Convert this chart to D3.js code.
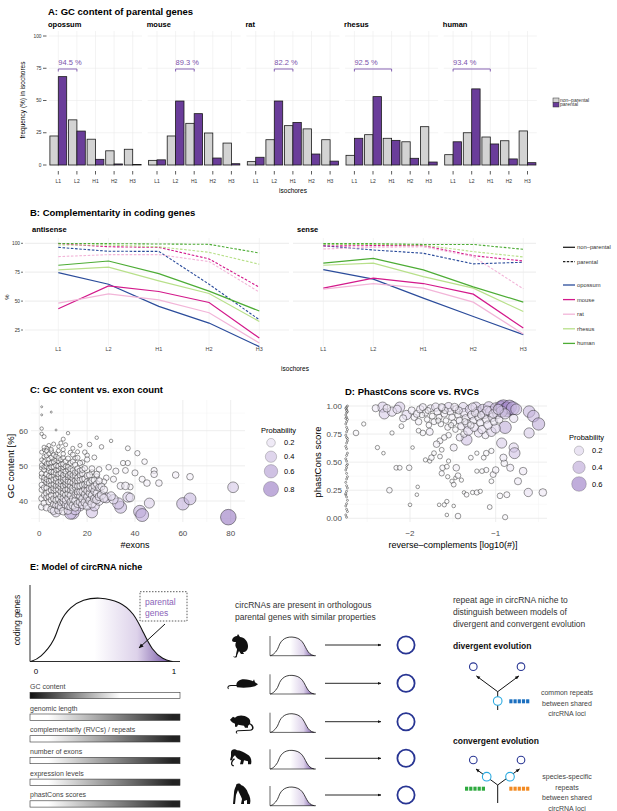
<!DOCTYPE html>
<html lang="en">
<head>
<meta charset="utf-8">
<title>circRNA niche</title>
<script src="https://cdnjs.cloudflare.com/ajax/libs/d3/7.8.5/d3.min.js"></script>
<style>
body{margin:0;background:#fff;}
svg{display:block;font-family:"Liberation Sans",Arial,sans-serif;}
</style>
</head>
<body>
<script>
var W = 617, H = 811;

// ---------- A: isochore frequencies ----------
var isochores = ["L1","L2","H1","H2","H3"];
var species = ["opossum","mouse","rat","rhesus","human"];
var freqNonParental = [
  [22.5,35.0,20.0,11.0,12.2],
  [3.6,22.5,32.3,24.8,17.0],
  [2.6,19.6,30.5,28.0,19.6],
  [7.5,23.5,20.7,18.0,29.7],
  [8.0,25.0,21.7,18.8,26.4]
];
var freqParental = [
  [68.5,26.3,4.4,0.8,0.4],
  [4.0,49.6,39.8,5.4,1.0],
  [6.0,49.6,33.0,8.5,3.0],
  [20.7,53.0,19.1,5.2,2.3],
  [18.0,59.0,16.3,4.7,1.8]
];
var pctLabels = ["94.5 %","89.3 %","82.2 %","92.5 %","93.4 %"];
var bracketFrom = ["L1","L2","L2","L1","L1"];
var bracketTo = ["L2","H1","H1","H1","H1"];

// ---------- B: complementarity ----------
var speciesColors = ["#2b4c9b","#d3198b","#f2b5d8","#b8e08a","#4dac35"];
var antisenseNon = [
  [74.7,64.6,45.4,31.0,10.6],
  [43.4,63.2,58.3,48.8,18.1],
  [48.3,56.3,51.1,39.9,13.8],
  [77.0,79.3,67.5,56.6,32.4],
  [81.0,84.7,73.8,58.6,41.4]
];
var antisensePar = [
  [96.5,93.1,93.0,64.6,33.9],
  [99.7,97.0,96.5,86.5,62.0],
  [88.5,90.2,90.2,84.2,57.8],
  [98.5,98.5,97.0,92.2,81.9],
  [99.9,99.7,99.4,99.1,91.6]
];
var senseNon = [
  [77.2,69.0,52.6,36.7,21.0],
  [61.2,69.8,65.2,56.0,26.7],
  [60.3,65.2,61.2,49.1,21.5],
  [81.0,82.8,71.2,61.2,41.0],
  [82.8,87.0,77.0,62.3,49.1]
];
var sensePar = [
  [97.9,94.2,91.4,82.2,83.6],
  [97.6,98.0,98.0,89.3,84.7],
  [95.1,96.5,97.0,88.5,60.6],
  [99.0,99.0,98.5,92.8,88.2],
  [99.7,99.7,99.0,99.0,94.8]
];
var pctTicks = [25,50,75,100];

// ---------- C: GC content vs exon count  [exons, GC %, probability] ----------
var cPoints = [
  [1,66.8,0.00],[1,64.5,0.00],[5,65.3,0.00],[1,60.6,0.01],[7,60.2,0.00],[12,59.3,0.01],[1,59.1,0.01],[2,58.3,0.02],
  [10,57.6,0.02],[24,58.0,0.01],[30,57.1,0.01],[21,56.1,0.03],[26,55.4,0.03],[37,55.0,0.04],[41,53.6,0.05],[44,51.2,0.06],
  [35,50.8,0.05],[37,50.8,0.05],[29,49.6,0.06],[25,49.0,0.06],[32,48.5,0.08],[36,48.7,0.07],[40,48.0,0.08],[48,48.7,0.08],
  [48,47.6,0.10],[57,47.4,0.10],[63,46.9,0.10],[43,46.2,0.08],[45,45.1,0.10],[50,45.1,0.10],[34,44.3,0.12],[31,46.2,0.08],
  [28,46.6,0.06],[38,44.0,0.07],[27,45.5,0.06],[24,47.0,0.05],[22,48.2,0.05],[20,53.0,0.03],[18,51.0,0.04],[16,54.0,0.02],
  [14,55.0,0.02],[11,56.0,0.02],[9,56.5,0.02],[8,55.5,0.01],[6,56.2,0.02],[4,55.8,0.02],[3,55.0,0.02],[2,54.5,0.01],
  [5,54.2,0.03],[7,53.5,0.01],[13,53.8,0.03],[10,54.6,0.02],[17,55.8,0.02],[19,53.9,0.03],[23,52.4,0.04],[15,52.2,0.04],
  [81,43.9,0.35],[79,35.4,0.85],[60,39.2,0.50],[63,40.6,0.45],[46,39.4,0.30],[42,37.0,0.50],[43,36.0,0.55],[34,38.2,0.45],
  [33,39.3,0.40],[37,41.1,0.30],[28,40.9,0.30],[31,40.5,0.25],[22,36.8,0.40],[23,38.6,0.30],[14,36.6,0.50],[13,36.5,0.45],
  [7,36.8,0.25],[7,38.1,0.20],[17,38.6,0.30],[20,39.0,0.20],[10,40.0,0.20],[15,37.6,0.35],[25,40.0,0.20],[19,41.0,0.15],
  [38,41.0,0.20],[30,41.4,0.20],[36,44.3,0.15],
  [1,38.3,0.09],[1,40.7,0.07],[1,43.2,0.05],[1,44.6,0.05],[1,46.9,0.04],[1,47.8,0.04],[1,49.4,0.03],[1,50.2,0.03],[1,51.7,0.02],[1,53.9,0.02],
  [2,39.4,0.08],[2,41.6,0.06],[2,43.8,0.06],[2,45.9,0.05],[2,46.6,0.04],[2,48.9,0.04],[2,49.7,0.03],[2,51.2,0.03],[2,52.6,0.02],[2,55.3,0.02],
  [3,38.1,0.10],[3,40.9,0.07],[3,42.2,0.07],[3,43.7,0.05],[3,45.4,0.06],[3,46.2,0.04],[3,47.6,0.05],[3,49.8,0.04],[3,50.6,0.03],[3,52.9,0.03],[3,54.3,0.02],
  [4,39.8,0.08],[4,41.2,0.07],[4,42.7,0.06],[4,44.9,0.05],[4,45.7,0.05],[4,47.1,0.04],[4,48.6,0.05],[4,49.3,0.03],[4,50.8,0.04],[4,51.9,0.03],[4,53.4,0.02],
  [5,37.6,0.12],[5,40.3,0.08],[5,41.6,0.07],[5,43.1,0.07],[5,44.6,0.05],[5,45.8,0.06],[5,46.9,0.04],[5,48.3,0.05],[5,49.6,0.04],[5,50.9,0.03],[5,52.4,0.03],[5,54.7,0.02],
  [6,37.2,0.13],[6,39.1,0.10],[6,40.6,0.08],[6,42.9,0.06],[6,43.7,0.07],[6,44.8,0.05],[6,46.1,0.06],[6,47.4,0.04],[6,48.2,0.05],[6,49.7,0.04],[6,51.1,0.03],[6,53.1,0.03],
  [7,38.8,0.11],[7,40.2,0.09],[7,41.7,0.07],[7,43.1,0.08],[7,44.3,0.06],[7,45.6,0.06],[7,46.4,0.05],[7,47.9,0.05],[7,48.8,0.04],[7,50.1,0.04],[7,51.6,0.03],[7,52.7,0.03],
  [8,37.4,0.14],[8,38.7,0.11],[8,40.6,0.09],[8,42.1,0.07],[8,43.3,0.08],[8,44.4,0.06],[8,45.3,0.07],[8,46.8,0.05],[8,47.6,0.05],[8,48.9,0.04],[8,49.9,0.05],[8,51.3,0.03],[8,52.2,0.04],[8,54.3,0.02],
  [9,38.3,0.13],[9,39.6,0.10],[9,41.2,0.09],[9,42.7,0.07],[9,43.9,0.08],[9,44.8,0.06],[9,45.7,0.06],[9,46.6,0.05],[9,47.9,0.06],[9,49.3,0.04],[9,50.4,0.04],[9,51.8,0.03],
  [10,37.1,0.15],[10,39.8,0.11],[10,40.7,0.10],[10,42.2,0.08],[10,43.6,0.07],[10,44.3,0.07],[10,45.9,0.06],[10,46.7,0.06],[10,47.4,0.05],[10,48.8,0.05],[10,49.6,0.04],[10,50.5,0.05],[10,52.3,0.03],[10,53.4,0.03],
  [11,38.9,0.13],[11,40.2,0.11],[11,41.7,0.09],[11,43.2,0.08],[11,44.6,0.07],[11,45.3,0.06],[11,46.2,0.07],[11,47.7,0.05],[11,48.4,0.05],[11,49.8,0.04],[11,51.3,0.04],
  [12,37.3,0.16],[12,38.6,0.13],[12,40.8,0.10],[12,42.1,0.09],[12,43.4,0.08],[12,44.7,0.07],[12,45.6,0.06],[12,46.8,0.06],[12,47.3,0.05],[12,48.9,0.05],[12,49.7,0.04],[12,52.1,0.04],
  [13,38.4,0.14],[13,39.7,0.12],[13,41.6,0.10],[13,43.1,0.08],[13,44.2,0.08],[13,45.4,0.07],[13,46.9,0.06],[13,47.8,0.06],[13,49.1,0.05],[13,50.8,0.04],
  [14,38.7,0.14],[14,40.6,0.11],[14,42.8,0.09],[14,43.7,0.09],[14,45.2,0.07],[14,46.4,0.07],[14,47.3,0.06],[14,48.7,0.05],[14,51.2,0.05],[14,53.2,0.04],
  [15,38.2,0.15],[15,40.1,0.12],[15,41.7,0.10],[15,43.9,0.08],[15,44.6,0.08],[15,45.8,0.07],[15,47.2,0.06],[15,48.1,0.06],[15,50.3,0.05],
  [16,39.2,0.14],[16,41.8,0.11],[16,42.6,0.10],[16,44.2,0.08],[16,45.7,0.08],[16,46.6,0.07],[16,48.3,0.06],[16,49.2,0.06],[16,52.3,0.04],
  [17,39.7,0.15],[17,41.4,0.12],[17,42.6,0.10],[17,44.3,0.09],[17,45.9,0.08],[17,47.4,0.07],[17,48.6,0.06],[17,50.8,0.05],
  [18,38.9,0.16],[18,40.6,0.13],[18,42.7,0.11],[18,44.6,0.09],[18,46.2,0.08],[18,47.8,0.07],[18,48.9,0.06],
  [19,39.6,0.15],[19,41.9,0.12],[19,43.4,0.10],[19,44.7,0.09],[19,46.3,0.08],[19,49.3,0.06],
  [20,38.6,0.17],[20,41.1,0.13],[20,42.9,0.11],[20,44.6,0.10],[20,45.4,0.09],[20,47.2,0.08],[20,51.8,0.05],
  [21,40.1,0.15],[21,42.2,0.12],[21,43.6,0.11],[21,45.1,0.09],[21,47.4,0.08],
  [22,39.2,0.18],[22,41.6,0.13],[22,43.7,0.11],[22,45.8,0.09],[22,49.2,0.07],
  [23,40.6,0.16],[23,42.8,0.13],[23,44.3,0.11],[23,45.9,0.09],
  [24,40.4,0.18],[24,42.1,0.14],[24,44.8,0.11],[24,47.6,0.08],
  [25,41.2,0.16],[25,43.8,0.13],[25,45.7,0.10],
  [26,41.7,0.17],[26,44.1,0.12],
  [27,40.8,0.18],[27,43.2,0.14]
];
var cTicksX = [0,20,40,60,80];
var cTicksY = [40,50,60];

// ---------- D: phastCons vs reverse complements  [log10(#RVC), phastCons, probability] ----------
var dPoints = [
  [-2.63,0.76,0.05],[-2.54,0.84,0.02],[-2.38,0.63,0.02],[-2.31,0.58,0.01],[-2.24,0.25,0.05],[-2.16,0.45,0.03],[-2.12,0.45,0.03],
  [-2.01,0.45,0.05],[-1.97,0.63,0.01],[-2.00,0.12,0.01],[-1.91,0.28,0.01],[-1.92,0.21,0.01],[-2.10,0.82,0.03],[-2.21,0.76,0.02],
  [-1.82,0.52,0.02],[-1.77,0.51,0.02],[-1.75,0.54,0.05],[-1.72,0.58,0.03],[-1.65,0.55,0.03],[-1.66,0.12,0.01],[-1.60,0.12,0.02],
  [-1.57,0.15,0.02],[-1.49,0.11,0.01],[-1.57,0.03,0.01],[-1.44,0.02,0.05],[-1.65,0.69,0.06],[-1.69,0.66,0.08],[-1.63,0.61,0.03],
  [-1.62,0.45,0.05],[-1.57,0.46,0.03],[-1.55,0.51,0.02],[-1.63,0.40,0.04],[-1.56,0.37,0.02],[-1.51,0.33,0.02],[-1.49,0.30,0.03],
  [-1.47,0.36,0.01],[-1.44,0.38,0.05],[-1.46,0.45,0.08],[-1.40,0.34,0.02],[-1.37,0.23,0.01],[-1.34,0.21,0.03],[-1.27,0.23,0.02],
  [-1.22,0.23,0.04],[-1.18,0.24,0.02],[-1.07,0.10,0.03],[-1.05,0.33,0.03],[-1.03,0.39,0.06],[-1.11,0.43,0.04],[-1.16,0.42,0.03],
  [-1.22,0.42,0.02],[-1.29,0.54,0.03],[-1.22,0.58,0.02],[-1.14,0.54,0.03],[-1.11,0.58,0.05],[-1.05,0.60,0.04],[-1.00,0.43,0.08],
  [-0.95,0.20,0.05],[-0.90,0.49,0.08],[-0.89,0.01,0.04],[-0.87,0.21,0.06],[-0.91,0.54,0.10],[-0.83,0.45,0.10],[-0.79,0.63,0.20],
  [-0.74,0.33,0.10],[-0.68,0.42,0.12],[-0.62,0.23,0.15],[-0.45,0.23,0.12],[-0.78,0.58,0.30],[-0.93,0.67,0.25],[-0.89,0.81,0.40],
  [-0.79,0.89,0.15],[-0.61,0.95,0.35],[-0.56,0.91,0.35],[-0.50,0.84,0.40],[-0.61,0.76,0.25],[-1.77,0.77,0.10],[-1.49,0.63,0.10],
  [-1.34,0.70,0.30],[-1.42,0.72,0.10],[-1.37,0.75,0.08],[-1.20,0.76,0.15],[-1.12,0.74,0.10],[-1.05,0.77,0.20],[-1.00,0.80,0.20],
  [-1.55,0.74,0.05],[-1.60,0.72,0.05],[-1.85,0.76,0.05],[-1.90,0.78,0.03],[-2.32,0.99,0.25],[-2.30,0.93,0.25],[-2.12,0.99,0.25],
  [-2.21,0.95,0.20],[-2.04,0.92,0.20],[-2.15,0.97,0.15],[-2.40,0.98,0.10],[-1.98,0.96,0.10],[-1.95,0.90,0.08],[-1.92,0.93,0.10],
  [-2.08,0.89,0.10],[-1.90,0.86,0.08],[-1.88,0.97,0.12],[-1.85,0.99,0.10],[-1.82,0.94,0.08],[-1.80,0.88,0.05],[-1.78,0.83,0.05],
  [-1.76,0.98,0.10],[-1.74,0.91,0.06],[-1.72,0.86,0.06],[-1.70,0.99,0.15],[-1.68,0.95,0.10],[-1.66,0.90,0.06],[-1.64,0.84,0.05],
  [-1.62,0.98,0.12],[-1.60,0.93,0.08],[-1.58,0.87,0.05],[-1.56,0.81,0.06],[-1.55,0.99,0.20],[-1.53,0.95,0.10],[-1.51,0.90,0.08],
  [-1.49,0.85,0.06],[-1.47,0.79,0.05],[-1.46,0.97,0.12],[-1.44,0.92,0.08],[-1.42,0.87,0.10],[-1.40,0.82,0.12],[-1.38,0.99,0.20],
  [-1.37,0.94,0.15],[-1.35,0.89,0.12],[-1.33,0.84,0.15],[-1.32,0.78,0.20],[-1.30,0.97,0.20],[-1.28,0.92,0.15],[-1.26,0.87,0.10],
  [-1.25,0.81,0.15],[-1.23,0.99,0.25],[-1.21,0.95,0.20],[-1.20,0.90,0.12],[-1.18,0.85,0.10],[-1.16,0.79,0.15],[-1.15,0.97,0.25],
  [-1.13,0.93,0.20],[-1.11,0.88,0.12],[-1.09,0.83,0.15],[-1.08,0.99,0.30],[-1.06,0.95,0.25],[-1.04,0.90,0.15],[-1.02,0.86,0.10],
  [-1.00,0.98,0.30],[-0.98,0.93,0.20],[-0.96,0.88,0.12],[-0.94,0.99,0.40],[-0.91,0.99,0.60],[-0.87,0.97,0.60],[-0.84,0.99,0.55],
  [-0.80,0.98,0.45],[-0.76,0.97,0.30],[-0.93,0.95,0.30],[-0.89,0.93,0.25],[-1.86,0.92,0.05],[-1.79,0.96,0.06],[-1.67,0.87,0.04],
  [-1.59,0.96,0.07],[-1.52,0.83,0.04],[-1.43,0.96,0.10],[-1.36,0.86,0.07],[-1.29,0.83,0.08],[-1.24,0.94,0.12],[-1.17,0.92,0.10],
  [-1.10,0.96,0.18],[-1.03,0.93,0.15],[-0.97,0.97,0.25],[-1.27,0.99,0.15],[-1.48,0.99,0.12],[-1.63,0.99,0.10],[-2.27,0.98,0.12]
];
var dStrip = [
  [-2.74,0.01],[-2.75,0.03],[-2.73,0.06],[-2.74,0.08],[-2.75,0.11],[-2.74,0.13],[-2.73,0.16],[-2.74,0.19],[-2.75,0.21],[-2.74,0.24],
  [-2.73,0.27],[-2.74,0.29],[-2.75,0.32],[-2.74,0.35],[-2.73,0.37],[-2.74,0.40],[-2.75,0.43],[-2.74,0.45],[-2.73,0.48],[-2.74,0.51],
  [-2.75,0.53],[-2.74,0.56],[-2.73,0.58],[-2.74,0.62],[-2.75,0.64],[-2.74,0.67],[-2.73,0.69],[-2.74,0.72],[-2.75,0.74],[-2.74,0.77],
  [-2.73,0.79],[-2.74,0.81],[-2.75,0.84],[-2.74,0.86],[-2.73,0.88],[-2.74,0.90],[-2.75,0.92],[-2.74,0.94],[-2.73,0.95],[-2.74,0.97],
  [-2.75,0.98],[-2.74,0.99],[-2.73,1.00],[-2.74,0.96],[-2.75,0.89],[-2.73,0.71],[-2.74,0.47],[-2.75,0.22]
];
var dTicksX = [-2,-1];
var dTicksY = [0,0.25,0.5,0.75,1];
var probLegendC = [0.2,0.4,0.6,0.8];
var probLegendD = [0.2,0.4,0.6];

// ---------- E: schematic ----------
var nicheCurve = [[-0.04,0],[0.03,0.05],[0.14,0.33],[0.17,0.62],[0.25,0.85],[0.34,0.96],[0.46,1.0],[0.61,0.93],[0.71,0.75],[0.78,0.44],[0.84,0.18],[0.92,0.03],[0.99,0]];
var propertyLabels = ["GC content","genomic length","complementarity (RVCs) / repeats","number of exons","expression levels","phastCons scores"];
var propertyDarkLeft = [true,false,false,false,false,false];
var animalRows = [645,683.3,721.7,758.3,795];

var svg = d3.select("body").append("svg").attr("width",W).attr("height",H);
var defs = svg.append("defs");

function txt(x,y,s,size,opt){
  opt = opt || {};
  return svg.append("text").attr("x",x).attr("y",y).text(s)
    .attr("font-size",size+"px")
    .attr("font-weight",opt.bold ? "bold" : null)
    .attr("fill",opt.fill || "#000")
    .attr("text-anchor",opt.anchor || "start");
}

// ================= PANEL A =================
txt(48,15,"A: GC content of parental genes",9.5,{bold:true});
var yA = d3.scaleLinear().domain([0,100]).range([165,36]);
var bw = 8.4;
species.forEach(function(sp,i){
  var x0 = 49 + i*98.7;
  var xA = d3.scaleBand().domain(isochores).range([x0,x0+93]);
  var cx = function(k){ return xA(k) + xA.bandwidth()/2; };
  var g = svg.append("g");
  g.selectAll(".hg").data([0,25,50,75,100]).enter().append("line").attr("class","hg")
    .attr("x1",x0).attr("x2",x0+93).attr("y1",yA).attr("y2",yA)
    .attr("stroke","#ebebeb").attr("stroke-width",0.6);
  g.selectAll(".vg").data(isochores).enter().append("line").attr("class","vg")
    .attr("x1",cx).attr("x2",cx).attr("y1",31).attr("y2",167)
    .attr("stroke","#ebebeb").attr("stroke-width",0.6);
  g.selectAll(".np").data(freqNonParental[i]).enter().append("rect").attr("class","np")
    .attr("x",function(d,j){ return cx(isochores[j]) - bw; })
    .attr("y",function(d){ return yA(d); })
    .attr("width",bw).attr("height",function(d){ return yA(0)-yA(d); })
    .attr("fill","#d3d3d3").attr("stroke","#1a1a1a").attr("stroke-width",0.8);
  g.selectAll(".pp").data(freqParental[i]).enter().append("rect").attr("class","pp")
    .attr("x",function(d,j){ return cx(isochores[j]); })
    .attr("y",function(d){ return yA(d); })
    .attr("width",bw).attr("height",function(d){ return yA(0)-yA(d); })
    .attr("fill","#6a3d9a").attr("stroke","#1a1a1a").attr("stroke-width",0.8);
  g.selectAll(".xt").data(isochores).enter().append("line").attr("class","xt")
    .attr("x1",cx).attr("x2",cx).attr("y1",171).attr("y2",174.5)
    .attr("stroke","#333").attr("stroke-width",0.8);
  g.selectAll(".xl").data(isochores).enter().append("text").attr("class","xl")
    .attr("x",cx).attr("y",183).attr("text-anchor","middle")
    .attr("font-size","5px").attr("fill","#333").text(function(d){ return d; });
  // bracket
  var bx1 = cx(bracketFrom[i]), bx2 = cx(bracketTo[i]);
  g.append("path").attr("d","M"+bx1+",71.5V69H"+bx2+"V71.5")
    .attr("fill","none").attr("stroke","#7b52ab").attr("stroke-width",0.9);
  txt(bx1,65,pctLabels[i],7.5,{fill:"#7b52ab"});
  txt(x0-1,27,sp,7.5,{bold:true});
});
[0,25,50,75,100].forEach(function(v){
  txt(41.5,yA(v)+1.7,String(v),4.8,{anchor:"end",fill:"#333"});
  svg.append("line").attr("x1",43).attr("x2",46.5).attr("y1",yA(v)).attr("y2",yA(v)).attr("stroke","#333").attr("stroke-width",0.8);
});
txt(293,193,"isochores",6.5,{anchor:"middle"});
svg.append("text").attr("transform","translate(25,100) rotate(-90)").attr("text-anchor","middle")
  .attr("font-size","6.5px").text("frequency (%) in isochores");
// legend A
svg.append("rect").attr("x",553).attr("y",98).attr("width",6).attr("height",4.5).attr("fill","#d3d3d3").attr("stroke","#333").attr("stroke-width",0.5);
svg.append("rect").attr("x",553).attr("y",102.5).attr("width",6).attr("height",4.5).attr("fill","#6a3d9a").attr("stroke","#333").attr("stroke-width",0.5);
txt(560,101.8,"non\u2013parental",5,{fill:"#333"});
txt(560,106.3,"parental",5,{fill:"#333"});

// ================= PANEL B =================
txt(30,216,"B: Complementarity in coding genes",9.5,{bold:true});
var yB = d3.scaleLinear().domain([25,100]).range([330,243.3]);
var facetsB = [
  {name:"antisense", gx0:25, gx1:289, r0:58.3, r1:259.3, non:antisenseNon, par:antisensePar},
  {name:"sense", gx0:293, gx1:536, r0:323.3, r1:523.3, non:senseNon, par:sensePar}
];
facetsB.forEach(function(f){
  var xB = d3.scalePoint().domain(isochores).range([f.r0,f.r1]);
  var g = svg.append("g");
  g.selectAll(".hg").data(pctTicks).enter().append("line").attr("class","hg")
    .attr("x1",f.gx0).attr("x2",f.gx1).attr("y1",yB).attr("y2",yB)
    .attr("stroke","#efefef").attr("stroke-width",1.2);
  g.selectAll(".vg").data(isochores).enter().append("line").attr("class","vg")
    .attr("x1",xB).attr("x2",xB).attr("y1",238).attr("y2",346)
    .attr("stroke","#ececec").attr("stroke-width",0.6);
  g.selectAll(".xl").data(isochores).enter().append("text").attr("class","xl")
    .attr("x",xB).attr("y",351).attr("text-anchor","middle")
    .attr("font-size","5.5px").attr("fill","#444").text(function(d){ return d; });
  var line = d3.line().x(function(d,j){ return xB(isochores[j]); }).y(function(d){ return yB(d); });
  f.par.forEach(function(vals,k){
    g.append("path").attr("d",line(vals)).attr("fill","none")
      .attr("stroke",speciesColors[k]).attr("stroke-width",1.1).attr("stroke-dasharray","2.6,1.6");
  });
  f.non.forEach(function(vals,k){
    g.append("path").attr("d",line(vals)).attr("fill","none")
      .attr("stroke",speciesColors[k]).attr("stroke-width",1.2);
  });
  txt(f.gx0+(f.name==="sense"?4:7),232,f.name,7.5,{bold:true});
});
pctTicks.forEach(function(v){
  txt(20,yB(v)+1.7,String(v),4.8,{anchor:"end",fill:"#333"});
  svg.append("line").attr("x1",21).attr("x2",23).attr("y1",yB(v)).attr("y2",yB(v)).attr("stroke","#333").attr("stroke-width",0.7);
});
svg.append("text").attr("transform","translate(9,297) rotate(-90)").attr("text-anchor","middle")
  .attr("font-size","6px").text("%");
txt(295,371,"isochores",6.5,{anchor:"middle"});
// legend B
svg.append("line").attr("x1",563).attr("x2",575).attr("y1",247.3).attr("y2",247.3).attr("stroke","#222").attr("stroke-width",1.3);
svg.append("line").attr("x1",563).attr("x2",575).attr("y1",261.7).attr("y2",261.7).attr("stroke","#222").attr("stroke-width",1.2).attr("stroke-dasharray","2.4,1.4");
txt(577,249.3,"non\u2013parental",5.8,{fill:"#333"});
txt(577,263.7,"parental",5.8,{fill:"#333"});
species.forEach(function(sp,k){
  var yy = 285 + k*14.6;
  svg.append("line").attr("x1",563).attr("x2",575).attr("y1",yy).attr("y2",yy).attr("stroke",speciesColors[k]).attr("stroke-width",1.3);
  txt(577,yy+2,sp,5.8,{fill:"#333"});
});

// ================= PANELS C & D =================
function scatterPanel(o){
  var g = svg.append("g");
  o.minorX.forEach(function(v){
    g.append("line").attr("x1",o.x(v)).attr("x2",o.x(v)).attr("y1",o.top).attr("y2",o.bottom).attr("stroke","#f3f3f3").attr("stroke-width",0.5);
  });
  o.minorY.forEach(function(v){
    g.append("line").attr("x1",o.left).attr("x2",o.right).attr("y1",o.y(v)).attr("y2",o.y(v)).attr("stroke","#f3f3f3").attr("stroke-width",0.5);
  });
  o.ticksX.forEach(function(v){
    g.append("line").attr("x1",o.x(v)).attr("x2",o.x(v)).attr("y1",o.top).attr("y2",o.bottom).attr("stroke","#e9e9e9").attr("stroke-width",0.8);
  });
  o.ticksY.forEach(function(v){
    g.append("line").attr("x1",o.left).attr("x2",o.right).attr("y1",o.y(v)).attr("y2",o.y(v)).attr("stroke","#e9e9e9").attr("stroke-width",0.8);
  });
  g.selectAll(".pt").data(o.points).enter().append("circle").attr("class","pt")
    .attr("cx",function(d){ return o.x(d[0]); })
    .attr("cy",function(d){ return o.y(d[1]); })
    .attr("r",function(d){ return o.size(d[2]); })
    .attr("fill",function(d){ return o.color(d[2]); })
    .attr("fill-opacity",0.6)
    .attr("stroke","#1e1e1e").attr("stroke-opacity",0.7).attr("stroke-width",0.65);
  o.ticksX.forEach(function(v){
    txt(o.x(v),536,o.fmtX(v),8,{anchor:"middle",fill:"#4d4d4d"});
  });
  o.ticksY.forEach(function(v){
    txt(o.left-3,o.y(v)+3,o.fmtY(v),8,{anchor:"end",fill:"#4d4d4d"});
  });
  // legend
  txt(o.legX-10,o.legY0,"Probability",7.5);
  o.legend.forEach(function(p,k){
    var yy = o.legYs[k];
    svg.append("circle").attr("cx",o.legX).attr("cy",yy).attr("r",o.size(p))
      .attr("fill",o.color(p)).attr("fill-opacity",0.65)
      .attr("stroke","#2a2a2a").attr("stroke-opacity",0.4).attr("stroke-width",0.6);
    txt(o.legX+13,yy+2.7,String(p),7.5);
  });
}

txt(30,393,"C: GC content vs. exon count",9.5,{bold:true});
var xC = d3.scaleLinear().domain([0,80]).range([39.3,230.7]);
var yC = d3.scaleLinear().domain([40,60]).range([501,430.7]);
scatterPanel({
  x:xC, y:yC, left:31, right:245, top:400, bottom:522,
  ticksX:cTicksX, ticksY:cTicksY, minorX:[10,30,50,70], minorY:[35,45,55,65],
  points:cPoints,
  size:d3.scaleSqrt().domain([0,0.85]).range([1,7.8]),
  color:d3.scaleLinear().domain([0,0.85]).range(["#ffffff","#9677c2"]),
  fmtX:function(v){ return String(v); }, fmtY:function(v){ return String(v); },
  legend:probLegendC, legX:271, legY0:433, legYs:[442.7,456.7,471.3,489]
});
svg.append("text").attr("transform","translate(14,466) rotate(-90)").attr("text-anchor","middle")
  .attr("font-size","9.5px").text("GC content [%]");
txt(135,548,"#exons",9,{anchor:"middle"});

txt(345,395,"D: PhastCons score vs. RVCs",9.5,{bold:true});
var xD = d3.scaleLinear().domain([-2,-1]).range([410,495.7]);
var yD = d3.scaleLinear().domain([0,1]).range([518.3,406]);
scatterPanel({
  x:xD, y:yD, left:345, right:547, top:400, bottom:522,
  ticksX:dTicksX, ticksY:dTicksY, minorX:[-2.5,-1.5,-0.5], minorY:[0.125,0.375,0.625,0.875],
  points:dPoints.concat(dStrip.map(function(d){ return [d[0],d[1],0]; })),
  size:d3.scaleSqrt().domain([0,0.65]).range([1,7.6]),
  color:d3.scaleLinear().domain([0,0.65]).range(["#ffffff","#9677c2"]),
  fmtX:function(v){ return "\u2212"+Math.abs(v); }, fmtY:function(v){ return v.toFixed(2); },
  legend:probLegendD, legX:579, legY0:440, legYs:[450.7,467.3,484]
});
svg.append("text").attr("transform","translate(321,462) rotate(-90)").attr("text-anchor","middle")
  .attr("font-size","9.5px").text("phastCons score");
txt(453,548,"reverse\u2013complements [log10(#)]",9,{anchor:"middle"});

// ================= PANEL E =================
txt(30,570,"E: Model of circRNA niche",9,{bold:true});

var grad = defs.append("linearGradient").attr("id","nicheFill").attr("x1","0").attr("x2","1").attr("y1","0").attr("y2","0");
[[0,"#ffffff",0],[0.45,"#ffffff",1],[0.75,"#ddd2ea",1],[1,"#6b4a9e",1]].forEach(function(s){
  grad.append("stop").attr("offset",s[0]).attr("stop-color",s[1]).attr("stop-opacity",s[2]);
});
defs.append("marker").attr("id","arrow").attr("viewBox","0 0 10 10").attr("refX",9).attr("refY",5)
  .attr("markerWidth",5).attr("markerHeight",5).attr("orient","auto-start-reverse")
  .append("path").attr("d","M0,1L10,5L0,9Z").attr("fill","#111");
defs.append("marker").attr("id","arrowSmall").attr("viewBox","0 0 10 10").attr("refX",9).attr("refY",5)
  .attr("markerWidth",4).attr("markerHeight",4).attr("orient","auto")
  .append("path").attr("d","M0,1L10,5L0,9Z").attr("fill","#111");

function nicheChart(x0,x1,yBase,yTop,axisLeft,axisRight,axisTop,lw){
  var sx = d3.scaleLinear().domain([0,1]).range([x0,x1]);
  var sy = d3.scaleLinear().domain([0,1]).range([yBase,yTop]);
  var area = d3.area().x(function(d){ return sx(d[0]); }).y0(yBase).y1(function(d){ return sy(d[1]); }).curve(d3.curveBasis);
  var line = d3.line().x(function(d){ return sx(d[0]); }).y(function(d){ return sy(d[1]); }).curve(d3.curveBasis);
  svg.append("path").attr("d",area(nicheCurve)).attr("fill","url(#nicheFill)");
  svg.append("path").attr("d",line(nicheCurve)).attr("fill","none").attr("stroke","#111").attr("stroke-width",lw);
  svg.append("path").attr("d","M"+axisLeft+","+axisTop+"V"+yBase+"H"+axisRight)
    .attr("fill","none").attr("stroke","#111").attr("stroke-width",lw*0.8);
}
nicheChart(36,174,661.5,597,30,180,585,1.1);
svg.append("text").attr("transform","translate(20,620) rotate(-90)").attr("text-anchor","middle")
  .attr("font-size","8.5px").attr("fill","#222").text("coding genes");
txt(36,674,"0",8,{anchor:"middle"});
txt(174,674,"1",8,{anchor:"middle"});
svg.append("rect").attr("x",140).attr("y",591.7).attr("width",47).attr("height",29.3)
  .attr("fill","none").attr("stroke","#333").attr("stroke-width",0.8).attr("stroke-dasharray","1.5,1.5");
txt(145,605,"parental",8.5,{fill:"#8a63b8"});
txt(145,616,"genes",8.5,{fill:"#8a63b8"});
svg.append("line").attr("x1",165).attr("y1",624).attr("x2",139).attr("y2",648)
  .attr("stroke","#111").attr("stroke-width",1).attr("marker-end","url(#arrow)");

propertyLabels.forEach(function(lab,k){
  var yy = 692.3 + k*21.7;
  var gid = "prop"+k;
  var gr = defs.append("linearGradient").attr("id",gid).attr("x1","0").attr("x2","1").attr("y1","0").attr("y2","0");
  var stops = propertyDarkLeft[k] ? [[0,"#111"],[0.6,"#fff"],[1,"#fff"]] : [[0,"#fff"],[0.12,"#fff"],[0.95,"#222"],[1,"#222"]];
  stops.forEach(function(s){ gr.append("stop").attr("offset",s[0]).attr("stop-color",s[1]); });
  txt(30,yy-3.5,lab,7,{fill:"#444"});
  svg.append("rect").attr("x",30).attr("y",yy).attr("width",150).attr("height",6.3)
    .attr("fill","url(#"+gid+")").attr("stroke","#333").attr("stroke-width",0.6);
});

// middle column
txt(235,607.5,"circRNAs are present in orthologous",8.5,{fill:"#333"});
txt(235,619.5,"parental genes with similar properties",8.5,{fill:"#333"});
var animalPaths = [
  "M-8,-5C-7,-8 -5,-9 -3,-9L-2,-11L0,-8C4,-8 8,-4 8,1C8,5 6,7 3,7L4,9L1,9L-1,6C-2,8 -3,10 -3,11C-3,13 -6,13 -7,11C-6,12 -4,12 -4,10C-4,8 -3,6 -3,4C-5,2 -5,-1 -4,-3C-6,-3 -8,-3 -8,-5Z",
  "M-4,4C-6,0 -3,-4 3,-4C7,-4 10,-3 12,-2L13,-4L14,-1L17,1L14,3C10,4 4,5 -4,4ZM-4,2.6L-10,2.6C-13,2.6 -13,5 -12,5.5L-12.5,6C-14.5,5 -14,1.6 -10,1.6L-4,1.6Z",
  "M-10,-2L-7,-5L-5,-4C-2,-7 4,-7 8,-4C11,-2 11,2 8,4L8,6L5,6L4,4L-2,3L-3,5L-5,5L-5,2C-7,1 -9,0 -10,-2ZM9,1C15,3 15,9 10,9L-2,9.6C-3.5,9.8 -3.5,11 -2.5,11.5L-3,12C-5,11 -4.5,8.6 -2,8.5L10,8C13,8 13,4 8.5,2Z",
  "M-9,-6C-9,-9 -5,-10 -3,-8C0,-8 4,-6 7,-4C11,-2 12,2 11,6L8,6L8,3L4,2L3,6L0,6L1,2C-2,1 -4,-1 -5,-3L-7,-1L-8,2L-10,2L-9,-2ZM-6,0C-10,3 -10,8 -6,8L-6,7C-8.5,7 -8.5,3.5 -5,1Z",
  "M-6,-9C-6,-12 -2,-12 -1,-10C2,-9 5,-6 6,-2C8,1 9,5 8,9L5,9L5,5L2,6L2,9L-1,9L0,4C-1,1 -3,-2 -4,-5L-6,0L-7,9L-9,9L-8,-2C-8,-5 -7,-7 -6,-9Z"
];
var animalX = [240,241,240,240,242];
animalRows.forEach(function(cy,k){
  svg.append("path").attr("transform","translate("+animalX[k]+","+cy+")").attr("d",animalPaths[k]).attr("fill","#111");
  nicheChart(272,315,cy+10.7,cy-8.3,270,316,cy-9,0.8);
  svg.append("line").attr("x1",325).attr("x2",381).attr("y1",cy).attr("y2",cy)
    .attr("stroke","#111").attr("stroke-width",0.9).attr("marker-end","url(#arrowSmall)");
  svg.append("circle").attr("cx",406).attr("cy",cy).attr("r",8.6)
    .attr("fill","none").attr("stroke","#283593").attr("stroke-width",1.8);
});

// right column
txt(453,603,"repeat age in circRNA niche to",8.5,{fill:"#333"});
txt(453,615,"distinguish between models of",8.5,{fill:"#333"});
txt(453,627,"divergent and convergent evolution",8.5,{fill:"#333"});
txt(453,648.5,"divergent evolution",8.5,{bold:true,fill:"#111"});
txt(453,743.5,"convergent evolution",8.5,{bold:true,fill:"#111"});

function branch(bx,by,tipL,tipR,stemEnd){
  svg.append("line").attr("x1",bx).attr("y1",by).attr("x2",tipL[0]).attr("y2",tipL[1])
    .attr("stroke","#111").attr("stroke-width",1).attr("marker-end","url(#arrowSmall)");
  svg.append("line").attr("x1",bx).attr("y1",by).attr("x2",tipR[0]).attr("y2",tipR[1])
    .attr("stroke","#111").attr("stroke-width",1).attr("marker-end","url(#arrowSmall)");
  svg.append("line").attr("x1",bx).attr("y1",by).attr("x2",bx).attr("y2",stemEnd)
    .attr("stroke","#111").attr("stroke-width",1);
}
function ring(x,y,r,c){
  svg.append("circle").attr("cx",x).attr("cy",y).attr("r",r).attr("fill","#fff").attr("stroke",c).attr("stroke-width",1.1);
}
function repeatBar(x,y,c){
  for(var i=0;i<5;i++){
    svg.append("rect").attr("x",x+i*4.2).attr("y",y).attr("width",3.2).attr("height",4).attr("fill",c);
  }
}
branch(497.7,691.7,[476.5,676],[518.8,676],710);
ring(473.3,666.7,3.8,"#283593"); ring(521,666.7,3.8,"#283593");
ring(497.7,701,4.3,"#29aae1");
repeatBar(509.3,699.3,"#1b6fbf");
txt(567,695,"common repeats",7,{anchor:"middle",fill:"#444"});
txt(567,705.5,"between shared",7,{anchor:"middle",fill:"#444"});
txt(567,716,"circRNA loci",7,{anchor:"middle",fill:"#444"});

branch(497.7,785,[476,769],[519.5,769],803);
ring(473.3,760,3.8,"#283593"); ring(521,760,3.8,"#283593");
ring(486.7,776.7,4.3,"#29aae1"); ring(510,776.7,4.3,"#29aae1");
repeatBar(465,786.7,"#2eaa3f");
repeatBar(509.3,786.7,"#f28a22");
txt(567,779,"species-specific",7,{anchor:"middle",fill:"#444"});
txt(567,789.5,"repeats",7,{anchor:"middle",fill:"#444"});
txt(567,800,"between shared",7,{anchor:"middle",fill:"#444"});
txt(567,810.5,"circRNA loci",7,{anchor:"middle",fill:"#444"});
</script>
</body>
</html>
